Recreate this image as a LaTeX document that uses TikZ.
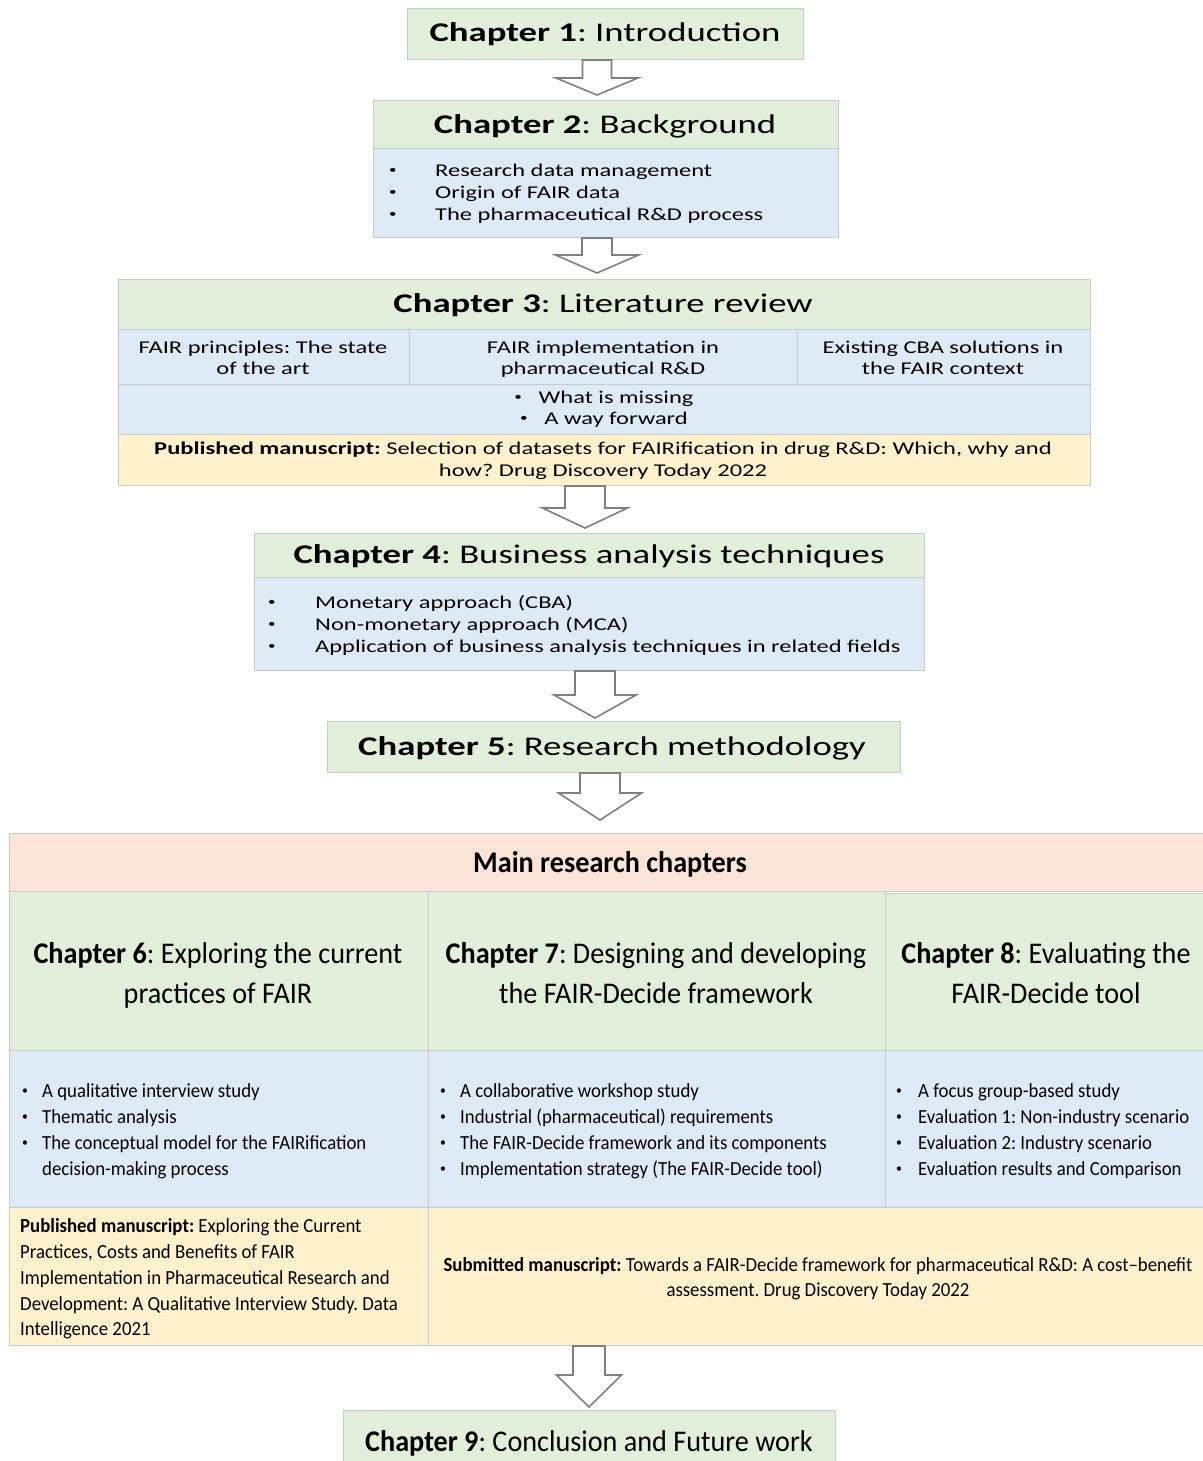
\documentclass[tikz,border=0pt]{standalone}
\usepackage{fontspec}
\usepackage{graphicx}
\setmainfont{Carlito}
\newfontfamily\widefont[FakeStretch=1.36]{Carlito}
\newfontfamily\slimfont[FakeStretch=0.94]{Carlito}
\usetikzlibrary{calc}
\frenchspacing

\definecolor{boxgreen}{HTML}{E2EFDA}
\definecolor{boxblue}{HTML}{DEEAF6}
\definecolor{boxyellow}{HTML}{FFF2CC}
\definecolor{boxpink}{HTML}{FBE5D6}
\definecolor{boxline}{HTML}{CACACA}
\definecolor{arrowline}{HTML}{7F7F7F}

% a small list bullet
\newcommand{\dotmark}{\raisebox{0.12em}{\scalebox{0.62}{•}}}

\tikzset{
  cell/.style={rectangle, draw=boxline, line width=1pt, inner sep=0pt, anchor=north west},
  gcell/.style={cell, fill=boxgreen},
  bcell/.style={cell, fill=boxblue},
  ycell/.style={cell, fill=boxyellow},
  pcell/.style={cell, fill=boxpink},
  ttl/.style={inner sep=0pt, anchor=base, font=\widefont\fontsize{27}{32}\selectfont},
  topitem/.style={inner sep=0pt, anchor=base west, font=\widefont\fontsize{18}{22}\selectfont},
  topline/.style={inner sep=0pt, anchor=base, font=\widefont\fontsize{18}{22}\selectfont},
  publine/.style={inner sep=0pt, anchor=base, font=\widefont\fontsize{18}{22}\selectfont},
  slimttl/.style={inner sep=0pt, anchor=base, font=\slimfont\fontsize{30}{36}\selectfont},
  slimitem/.style={inner sep=0pt, anchor=base west, font=\slimfont\fontsize{20}{24}\selectfont},
  slimline/.style={inner sep=0pt, anchor=base, font=\slimfont\fontsize{20}{24}\selectfont},
  blockarrow/.style={draw=arrowline, line width=1.6pt, fill=white, line join=miter},
}

% \boxcell{name}{style}{x1}{y1}{x2}{y2}: a filled cell between two corners
\newcommand{\boxcell}[6]{%
  \node[#2, minimum width=#5-#3, minimum height=#6-#4] (#1) at (#3,#4) {};}

% \chaparrow{from}{to}{x}{shaft half width}{head half width}{head length}{gap}
\newcommand{\chaparrow}[7]{%
  \draw[blockarrow] let \p1=(#1.south), \p2=(#2.north) in
    (#3pt-#4pt,\y1) -- (#3pt+#4pt,\y1) -- (#3pt+#4pt,\y2+#6pt+#7pt)
    -- (#3pt+#5pt,\y2+#6pt+#7pt) -- (#3pt,\y2+#7pt)
    -- (#3pt-#5pt,\y2+#6pt+#7pt) -- (#3pt-#4pt,\y2+#6pt+#7pt) -- cycle;}

\begin{document}
\begin{tikzpicture}[x=1pt,y=-1pt]
\fill[white] (0,0) rectangle (1202,1461);
\useasboundingbox (0,0) rectangle (1202,1461);

% ---- Chapter 1
\boxcell{c1}{gcell}{407}{8}{803}{59}
\node[ttl] (t1) at (605,42) {\textbf{Chapter 1}: Introduction};

% ---- Chapter 2
\boxcell{c2h}{gcell}{373}{100}{838}{148}
\boxcell{c2b}{bcell}{373}{148}{838}{237}
\node[ttl] (t2) at (605,134) {\textbf{Chapter 2}: Background};
\foreach \t/\yy [count=\k] in {Research data management/176, Origin of FAIR data/198, The pharmaceutical R\&D process/220}{
  \node[topitem] (c2d\k) at (389,\yy) {\dotmark};
  \node[topitem] (c2i\k) at (435,\yy) {\t};
}

% ---- Chapter 3
\boxcell{c3h}{gcell}{118}{279}{1090}{329}
\boxcell{c3a}{bcell}{118}{329}{409}{384}
\boxcell{c3b}{bcell}{409}{329}{797}{384}
\boxcell{c3c}{bcell}{797}{329}{1090}{384}
\boxcell{c3m}{bcell}{118}{384}{1090}{434}
\boxcell{c3y}{ycell}{118}{434}{1090}{485}
\node[ttl] (t3) at (603,312) {\textbf{Chapter 3}: Literature review};
\node[topline] (c3a1) at (263,353) {FAIR principles: The state};
\node[topline] (c3a2) at (263,374) {of the art};
\node[topline] (c3b1) at (603,353) {FAIR implementation in};
\node[topline] (c3b2) at (603,374) {pharmaceutical R\&D};
\node[topline] (c3c1) at (943,353) {Existing CBA solutions in};
\node[topline] (c3c2) at (943,374) {the FAIR context};
\node[topline] (c3m1) at (604,403) {\dotmark\ \ \ What is missing};
\node[topline] (c3m2) at (604,424) {\dotmark\ \ \ A way forward};
\node[publine] (c3y1) at (603,454) {\textbf{Published manuscript:} Selection of datasets for FAIRification in drug R\&D: Which, why and};
\node[publine] (c3y2) at (603,476) {how? Drug Discovery Today 2022};

% ---- Chapter 4
\boxcell{c4h}{gcell}{254}{533}{924}{577}
\boxcell{c4b}{bcell}{254}{577}{924}{670}
\node[ttl] (t4) at (589,563) {\textbf{Chapter 4}: Business analysis techniques};
\foreach \t/\yy [count=\k] in {Monetary approach (CBA)/608, Non-monetary approach (MCA)/630, Application of business analysis techniques in related fields/652}{
  \node[topitem] (c4d\k) at (268,\yy) {\dotmark};
  \node[topitem] (c4i\k) at (315,\yy) {\t};
}

% ---- Chapter 5
\boxcell{c5}{gcell}{327}{721}{900}{772}
\node[ttl] (t5) at (612,755) {\textbf{Chapter 5}: Research methodology};

% ---- Main research chapters
\boxcell{mp}{pcell}{9}{833}{1205}{891}
\node[slimttl] (mpt) at (610,872) {\textbf{Main research chapters}};

\boxcell{m6g}{gcell}{9}{891}{428}{1050}
\boxcell{m7g}{gcell}{428}{891}{885}{1050}
\boxcell{m8g}{gcell}{885}{893}{1205}{1050}
\boxcell{m6b}{bcell}{9}{1050}{428}{1207}
\boxcell{m7b}{bcell}{428}{1050}{885}{1207}
\boxcell{m8b}{bcell}{885}{1050}{1205}{1207}
\boxcell{m6y}{ycell}{9}{1207}{428}{1345}
\boxcell{m7y}{ycell}{428}{1207}{1205}{1345}

\node[slimttl] (t6a) at (218,963) {\textbf{Chapter 6}: Exploring the current};
\node[slimttl] (t6b) at (218,1003) {practices of FAIR};
\node[slimttl] (t7a) at (656,963) {\textbf{Chapter 7}: Designing and developing};
\node[slimttl] (t7b) at (656,1003) {the FAIR-Decide framework};
\node[slimttl] (t8a) at (1046,963) {\textbf{Chapter 8}: Evaluating the};
\node[slimttl] (t8b) at (1046,1003) {FAIR-Decide tool};

\foreach \t/\yy [count=\k] in {A qualitative interview study/1097, Thematic analysis/1123, The conceptual model for the FAIRification/1149}{
  \node[slimitem] (m6d\k) at (22,\yy) {\dotmark};
  \node[slimitem] (m6i\k) at (42,\yy) {\t};
}
\node[slimitem] (m6i4) at (42,1175) {decision-making process};

\foreach \t/\yy [count=\k] in {A collaborative workshop study/1097, Industrial (pharmaceutical) requirements/1123, The FAIR-Decide framework and its components/1149, Implementation strategy (The FAIR-Decide tool)/1175}{
  \node[slimitem] (m7d\k) at (440,\yy) {\dotmark};
  \node[slimitem] (m7i\k) at (460,\yy) {\t};
}

\foreach \t/\yy [count=\k] in {A focus group-based study/1097, Evaluation 1: Non-industry scenario/1123, Evaluation 2: Industry scenario/1149, Evaluation results and Comparison/1175}{
  \node[slimitem] (m8d\k) at (896,\yy) {\dotmark};
  \node[slimitem] (m8i\k) at (918,\yy) {\t};
}

\foreach \t/\yy [count=\k] in {{\textbf{Published manuscript:} Exploring the Current}/1232, {Practices, Costs and Benefits of FAIR}/1258, {Implementation in Pharmaceutical Research and}/1284, {Development: A Qualitative Interview Study. Data}/1310, {Intelligence 2021}/1335}{
  \node[slimitem] (m6p\k) at (20,\yy) {\t};
}
\node[slimline] (m7p1) at (818,1271) {\textbf{Submitted manuscript:} Towards a FAIR-Decide framework for pharmaceutical R\&D: A cost–benefit};
\node[slimline] (m7p2) at (818,1296) {assessment. Drug Discovery Today 2022};

% ---- Chapter 9
\boxcell{c9}{gcell}{343}{1410}{835}{1465}
\node[slimttl] (t9) at (589,1451) {\textbf{Chapter 9}: Conclusion and Future work};

% ---- Flow arrows between chapters
\chaparrow{c1}{c2h}{597}{14.5}{41}{17}{5}
\chaparrow{c2b}{c3h}{597}{15}{41.5}{18}{6}
\chaparrow{c3y}{c4h}{585}{20}{42.5}{20}{5}
\chaparrow{c4b}{c5}{595}{20}{41}{23}{3}
\chaparrow{c5}{mp}{600}{20}{41.5}{27}{13}
\chaparrow{m7y}{c9}{589}{16}{32.5}{32}{3}
\end{tikzpicture}
\end{document}
